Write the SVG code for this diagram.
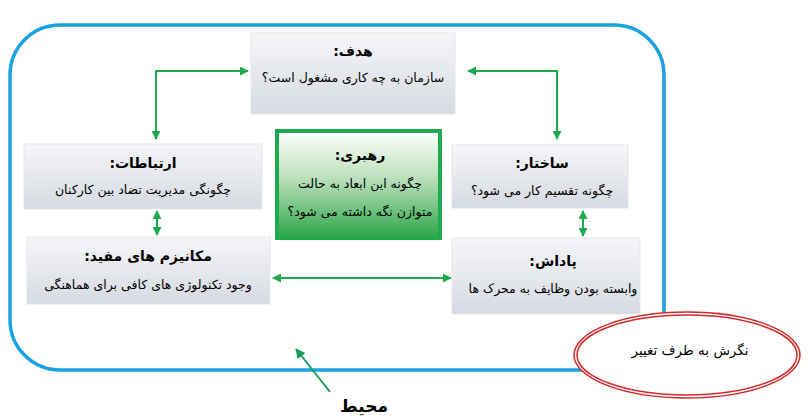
<svg xmlns="http://www.w3.org/2000/svg" width="812" height="420" viewBox="0 0 812 420">
<defs>
<linearGradient id="gray" x1="0" y1="0" x2="0" y2="1">
<stop offset="0" stop-color="#f5f6f8"/>
<stop offset="1" stop-color="#d6dae1"/>
</linearGradient>
<linearGradient id="green" x1="0" y1="0" x2="0" y2="1">
<stop offset="0" stop-color="#ffffff"/>
<stop offset="0.45" stop-color="#b9dfb9"/>
<stop offset="1" stop-color="#2ca64a"/>
</linearGradient>
<marker id="ah" viewBox="0 0 10 10" refX="9" refY="5" markerWidth="4.5" markerHeight="4.5" orient="auto-start-reverse">
<path d="M0,0 L10,5 L0,10 z" fill="#1daa4c"/>
</marker>
<marker id="ah2" viewBox="0 0 10 10" refX="9" refY="5" markerWidth="5" markerHeight="5" orient="auto">
<path d="M0,0 L10,5 L0,10 z" fill="#16a05a"/>
</marker>
</defs>
<style>
.box{fill:url(#gray);stroke:#e2e5ea;stroke-width:1}
.h{font-family:"DejaVu Sans",sans-serif;font-size:14px;font-weight:bold;fill:#000;text-anchor:middle}
.t{font-family:"DejaVu Sans",sans-serif;font-size:12.5px;fill:#000;text-anchor:middle}
.c{fill:none;stroke:#1daa4c;stroke-width:2}
</style>
<rect x="10" y="25" width="654" height="345" rx="50" ry="50" fill="none" stroke="#1aa3e0" stroke-width="3.5"/>
<g id="connectors">
<polyline class="c" points="156,139 156,71 248,71" marker-start="url(#ah)" marker-end="url(#ah)"/>
<polyline class="c" points="468,71 557,71 557,139" marker-start="url(#ah)" marker-end="url(#ah)"/>
<line class="c" x1="157" y1="211" x2="157" y2="235" marker-start="url(#ah)" marker-end="url(#ah)"/>
<line class="c" x1="583" y1="211" x2="583" y2="236" marker-start="url(#ah)" marker-end="url(#ah)"/>
<line class="c" x1="273" y1="278" x2="451" y2="278" marker-start="url(#ah)" marker-end="url(#ah)"/>
<line x1="330" y1="392" x2="296" y2="349" stroke="#16a05a" stroke-width="2" marker-end="url(#ah2)"/>
</g>
<g id="goal">
<rect class="box" x="251" y="33" width="204" height="81"/>
<text class="h" x="353" y="56" direction="rtl">هدف:</text>
<text class="t" x="353" y="82" direction="rtl">سازمان به چه کاری مشغول است؟</text>
</g>
<g id="communication">
<rect class="box" x="24" y="144" width="238" height="65"/>
<text class="h" x="143" y="168" direction="rtl">ارتباطات:</text>
<text class="t" x="143" y="194" direction="rtl">چگونگی مدیریت تضاد بین کارکنان</text>
</g>
<g id="leadership">
<rect x="277" y="131" width="163" height="107" fill="url(#green)" stroke="#1faa50" stroke-width="4"/>
<text class="h" x="360" y="160" direction="rtl">رهبری:</text>
<text class="t" x="360" y="188" direction="rtl">چگونه این ابعاد به حالت</text>
<text class="t" x="360" y="216" direction="rtl">متوازن نگه داشته می شود؟</text>
</g>
<g id="structure">
<rect class="box" x="452" y="145" width="176" height="63"/>
<text class="h" x="542" y="168" direction="rtl">ساختار:</text>
<text class="t" x="542" y="195" direction="rtl">چگونه تقسیم کار می شود؟</text>
</g>
<g id="mechanisms">
<rect class="box" x="27" y="237" width="243" height="67"/>
<text class="h" x="148" y="261" direction="rtl">مکانیزم های مفید:</text>
<text class="t" x="148" y="289" direction="rtl">وجود تکنولوژی های کافی برای هماهنگی</text>
</g>
<g id="reward">
<rect class="box" x="452" y="238" width="188" height="76"/>
<text class="h" x="553" y="266" direction="rtl">پاداش:</text>
<text class="t" x="553" y="293" direction="rtl">وابسته بودن وظایف به محرک ها</text>
</g>
<g id="change">
<ellipse cx="687" cy="355" rx="113" ry="43" fill="#fff" stroke="#d42a2a" stroke-width="1.5"/>
<ellipse cx="687" cy="355" rx="110" ry="40" fill="none" stroke="#d42a2a" stroke-width="1.5"/>
<text class="t" x="690" y="355" direction="rtl" style="font-size:13.5px">نگرش به طرف تغییر</text>
</g>
<g id="environment">
<text class="h" x="364" y="412" direction="rtl" style="font-size:17px">محیط</text>
</g>
</svg>
